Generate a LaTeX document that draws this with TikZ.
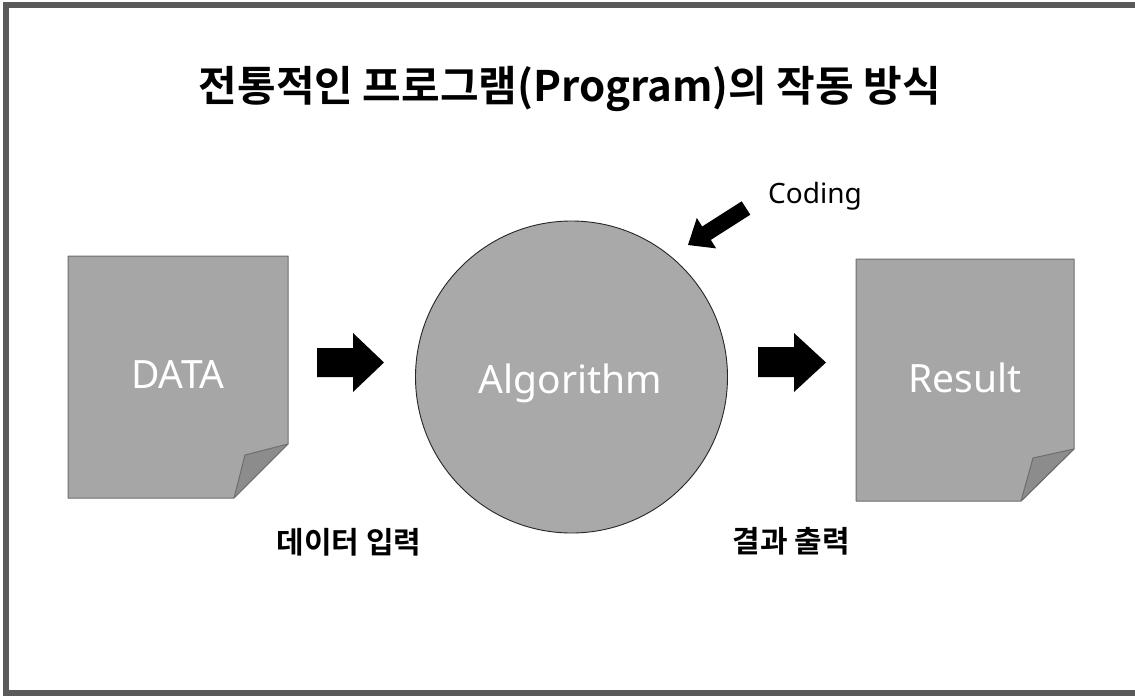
\documentclass[tikz,border=0pt]{standalone}
\usepackage{fontspec}
\setmainfont{Noto Sans CJK KR}[BoldFont={Noto Sans CJK KR Bold}]
\newfontfamily\lat{Noto Sans}
\definecolor{framegray}{HTML}{5A5A5A}
\definecolor{docfill}{HTML}{A6A6A6}
\definecolor{docline}{HTML}{6E6E6E}
\definecolor{foldfill}{HTML}{8C8C8C}
\definecolor{circfill}{HTML}{AAA9AA}
\tikzset{
  docshape/.style={fill=docfill, draw=docline, line width=1pt, line join=round},
  foldshape/.style={fill=foldfill, draw=docline, line width=1pt, line join=round},
  boxlabel/.style={text=white, font=\lat\fontsize{39}{44}\selectfont, inner sep=0pt, anchor=base},
  blockarrow/.style={fill=black},
  caption/.style={font=\bfseries\fontsize{30}{36}\selectfont, inner sep=0pt},
}
\begin{document}
\begin{tikzpicture}[x=1pt,y=-1pt]
\useasboundingbox (0,0) rectangle (1135,696);
\fill[white] (0,0) rectangle (1135,696);
% frame
\fill[framegray] (3,2) rectangle (1135,8);
\fill[framegray] (3,2) rectangle (9,696);
\fill[framegray] (3,690) rectangle (1135,696);

% title
\node[font=\bfseries\fontsize{42}{50}\selectfont, inner sep=0pt] (title) at (570,89) {전통적인 프로그램(Program)의 작동 방식};

% DATA document
\draw[docshape] (68,256) -- (288,256) -- (288,444) -- (234,498) -- (68,498) -- cycle;
\draw[foldshape] (288,444) -- (245,455) -- (234,498) -- cycle;
\node[boxlabel] (data) at (178,388) {DATA};

% Result document
\draw[docshape] (856,259) -- (1074,259) -- (1074,449) -- (1021,501) -- (856,501) -- cycle;
\draw[foldshape] (1074,449) -- (1033,458) -- (1021,501) -- cycle;
\node[boxlabel] (result) at (965,392) {Result};

% Algorithm circle
\node[circle, minimum size=312pt, inner sep=0pt, fill=circfill, draw=black!85, line width=0.9pt] (algo) at (571.5,377) {};
\node[boxlabel] (algotext) at (570.5,393) {Algorithm};

% block arrows
\fill[blockarrow] (317,348) -- (353,348) -- (353,333) -- (384,362.5) -- (353,392) -- (353,377) -- (317,377) -- cycle;
\fill[blockarrow] (758,347) -- (794,347) -- (794,333) -- (826,362.5) -- (794,392) -- (794,377) -- (758,377) -- cycle;
\fill[blockarrow] (688,245) -- (716.2,248.4) -- (710.8,239.9) -- (750.3,214.7) -- (741.7,201.3) -- (702.2,226.5) -- (696.8,218.0) -- cycle;

% labels
\node[font=\lat\fontsize{28}{34}\selectfont, inner sep=0pt, anchor=base] (coding) at (815,203) {Coding};
\node[caption] (input) at (349,542) {데이터 입력};
\node[caption] (output) at (791,541) {결과 출력};
\end{tikzpicture}
\end{document}
